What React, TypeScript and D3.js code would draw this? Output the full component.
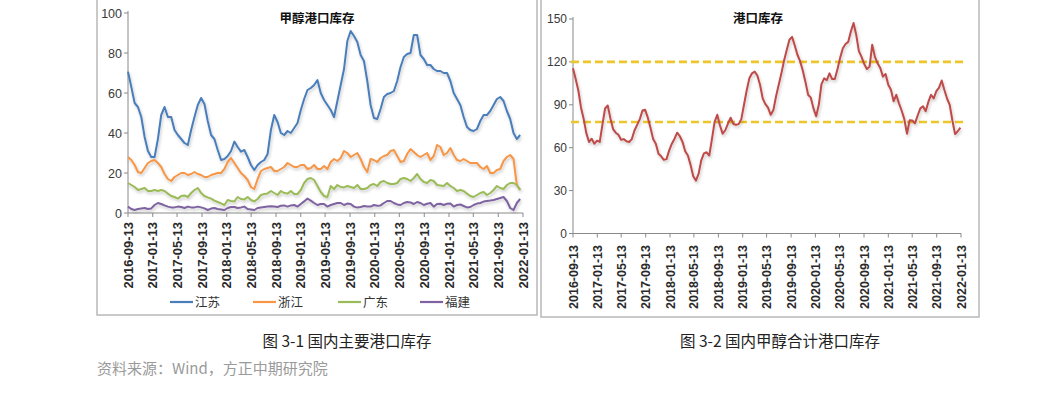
import React from 'react';
import * as d3 from 'd3';

// ---------- data ----------
const tickLabels = [
  '2016-09-13', '2017-01-13', '2017-05-13', '2017-09-13', '2018-01-13', '2018-05-13',
  '2018-09-13', '2019-01-13', '2019-05-13', '2019-09-13', '2020-01-13', '2020-05-13',
  '2020-09-13', '2021-01-13', '2021-05-13', '2021-09-13', '2022-01-13',
];
const leftSeriesStart = '2016-09-13';
const leftSeriesEnd = '2021-12-30';
const rightSeriesStart = '2016-09-13';
const rightSeriesEnd = '2022-01-10';

const seriesNames = ['江苏', '浙江', '广东', '福建'];

const jiangsu = [
  70.7, 63, 55, 53, 48, 38, 31, 28, 28, 37, 49, 53, 48, 48, 41.5, 39, 37, 35, 34, 41.5,
  48, 54, 57.5, 54.5, 46, 39, 37, 31.5, 26.5, 27, 28.5, 31, 35.7, 33, 30.7, 31.5, 28, 24, 21.5, 24,
  25.5, 26.5, 29.5, 41.5, 49, 45.5, 40, 39, 41, 40, 42.5, 45, 51.5, 57, 61.5, 62.5, 64, 66.5, 60, 56.5,
  54,
  51.5, 48, 56, 64, 72, 86, 91, 88.5, 85.5, 79, 76, 66, 54, 47.5, 47, 52, 58, 59.5, 60, 61,
  66, 73, 78, 79.5, 80, 89, 89, 79, 77, 74, 74, 72, 71, 71, 70, 70, 66, 60, 57, 54,
  48, 43, 41.5, 41, 42, 46, 49, 49, 51, 54, 57, 58, 56, 51, 47, 40, 37, 39,
];
const zhejiang = [
  28, 26.5, 24, 20.5, 20, 22.5, 25, 26, 26.5, 25, 23, 19.5, 17, 16, 18, 19, 20, 20, 19, 19.5,
  20.5, 19.5, 19, 18, 18, 19, 19.5, 20, 20, 22, 25.5, 27.5, 25, 22.5, 20, 18.5, 16.5, 13, 12, 17,
  21, 22, 22.5, 23, 21, 21, 22, 23, 25, 24, 23, 23, 24, 24, 22, 22.5, 24, 22, 22, 23.5,
  22,
  25.5, 27, 26, 27.5, 31, 30, 28, 29, 30, 27, 23, 20.5, 27, 26.5, 25.5, 27.5, 28.5, 29, 31, 31.5,
  28.5, 25.5, 26, 29.5, 32, 30.5, 29, 28, 29, 30, 26.5, 28.5, 34, 33, 29, 30, 32.5, 29, 26.5, 26,
  27, 26, 25, 25, 25, 23, 22, 23.5, 20, 20, 21.5, 22, 26, 28, 29, 27, 14, 11.5,
];
const guangdong = [
  15, 14, 13, 11.5, 12, 12.5, 11, 11, 11.5, 11, 11.5, 11, 9.7, 8.5, 8, 7.2, 8.5, 8.8, 8, 10,
  11.5, 12.5, 10, 8.5, 7.8, 7.2, 6.2, 5.5, 4.8, 4, 6.5, 6, 5.8, 8, 7, 6.8, 8, 6.5, 5.8, 7,
  9, 9.5, 9.8, 11, 10, 9, 11, 10, 9.7, 11, 9.5, 9.5, 11.5, 15, 17, 17.5, 16.5, 13.5, 10.5, 8.5,
  8,
  13.5, 12, 14, 13, 12.8, 13.5, 13, 12.5, 14, 12, 12, 12.5, 14, 14.5, 13.5, 15.5, 16, 15, 14.5, 14.5,
  15, 17, 17.5, 17, 16, 17.5, 19.5, 17, 15.5, 15, 16.5, 16, 14, 13.8, 13.5, 15, 13.5, 12.5, 11, 11.5,
  11, 9.7, 8.5, 8, 9, 10, 10.5, 9, 10, 11.5, 13.5, 12.5, 12, 14, 15, 15, 14, 11.5,
];
const fujian = [
  3.2, 2, 1.5, 2, 2.3, 2.5, 2, 2.3, 4, 5, 4.5, 3.8, 3.2, 2.8, 2.8, 3.2, 3, 2.5, 3.2, 2.8,
  2.8, 3.2, 2.8, 2.3, 1.5, 2.2, 2.5, 2, 1.8, 1.5, 2.5, 3, 3, 2.5, 2.8, 3.2, 2, 1.8, 1.5, 2.5,
  2.8, 3, 3.2, 3.4, 3.3, 3, 3.6, 3.8, 3.2, 3.8, 4, 3.2, 4.5, 5.8, 7.2, 6.2, 5, 4, 4.5, 4.5,
  3.2,
  4, 4.5, 5, 5, 4, 4.7, 4.5, 3.2, 2.7, 3, 3.5, 3.3, 3.2, 4, 3.6, 3.8, 5, 6, 6, 5,
  4.3, 4, 5, 5.5, 5.3, 4.5, 5.5, 5, 4, 4.6, 5, 3.2, 4.5, 4.6, 4, 4.6, 4.7, 3.2, 4, 4.3,
  3.5, 2.8, 3, 4, 4.7, 5, 5.7, 6, 6.2, 6.5, 7, 7.5, 8, 6, 2.5, 1.5, 5, 7,
];

const portTotal = [
  115.5, 108, 100, 88, 80, 70, 64, 66.3, 62.8, 65, 64, 76, 87.4, 89.5, 80.5, 73, 70.5, 69, 65.5, 66,
  64.5, 64, 66, 72, 76, 80, 86, 86.5, 81, 74, 66, 62.8, 55.8, 54, 51.5, 52, 58.1, 62.8, 66.3, 70.5,
  68, 64, 57.5, 54.5, 48, 40, 37, 41.7, 51.1, 56, 56.8, 54.5, 66, 78, 83, 75.5, 69.8, 72.2, 76.9, 81,
  76.6, 76, 76.5, 80, 90, 100, 108.5, 112, 113.2, 110.5, 104, 94.5, 90.5, 88,
  83, 86.3, 96, 104, 112, 121, 128.4, 135.5, 137.5, 131.5, 125, 120.5, 114, 106, 97, 95, 87.5, 82, 90, 104.5,
  108.5, 107.3, 112, 108, 108, 115, 123, 129.5, 132.5, 134, 141.3, 147.2, 139, 127.5, 123.5, 118.5, 115, 116.7, 132, 123.5,
  119, 115.8, 109.7, 111.5, 104, 100.5, 92.5, 97, 91, 86, 80, 69.8, 79.2, 79, 77, 82.5, 87.5, 89, 85.5, 92,
  97, 94.5, 99.5, 102, 107, 100.3, 94.4, 90, 79, 69.5, 71.5, 74,
];
const guideLevels = [120, 78];

const leftYTicks = [0, 20, 40, 60, 80, 100];
const rightYTicks = [0, 30, 60, 90, 120, 150];

const colors = ['#4A7EBB', '#F79646', '#9BBB59', '#7E63A0'];
const totalColor = '#BE4B48';

// ---------- helpers ----------
const parse = d3.timeParse('%Y-%m-%d');
function spread(values: number[], start: string, end: string) {
  const t0 = parse(start)!.getTime();
  const t1 = parse(end)!.getTime();
  return values.map((v, i) => ({ d: new Date(t0 + ((t1 - t0) * i) / (values.length - 1)), v }));
}

const numFont = '"Liberation Sans", Arial, sans-serif';
const cjkFont = '"Noto Sans CJK SC", sans-serif';

type AxisProps = {
  x: d3.ScaleTime<number, number>;
  y: d3.ScaleLinear<number, number>;
  yTicks: number[];
  labelTop: number;
  labelSize: number;
  ySize: number;
};

function Axes({ x, y, yTicks, labelTop, labelSize, ySize }: AxisProps) {
  const [x0, x1] = x.range();
  const [y0, y1] = y.range();
  const dates = tickLabels.map((s) => parse(s)!);
  return (
    <g>
      <line x1={x0} x2={x0} y1={y1 - 2} y2={y0} stroke="#8a8a8a" strokeWidth={1} />
      <line x1={x0} x2={x1} y1={y0} y2={y0} stroke="#8a8a8a" strokeWidth={1} />
      {yTicks.map((t) => (
        <g key={t}>
          <line x1={x0 - 4} x2={x0} y1={y(t)} y2={y(t)} stroke="#8a8a8a" />
          <text x={x0 - 6} y={y(t)} dy="0.36em" textAnchor="end" fontFamily={numFont} fontSize={ySize} fill="#3a3a3a">
            {t}
          </text>
        </g>
      ))}
      {dates.map((d, i) => (
        <g key={i}>
          <line x1={x(d)} x2={x(d)} y1={y0} y2={y0 + 4} stroke="#8a8a8a" />
          <text
            transform={`translate(${x(d)},${labelTop}) rotate(-90)`}
            dy="0.36em"
            textAnchor="end"
            fontFamily={numFont}
            fontWeight={700}
            fontSize={labelSize}
            fill="#2a2a2a"
          >
            {tickLabels[i]}
          </text>
        </g>
      ))}
    </g>
  );
}

export default function App() {
  const domain = [parse(tickLabels[0])!, parse(tickLabels[tickLabels.length - 1])!];

  const xL = d3.scaleTime().domain(domain).range([128, 523]);
  const yL = d3.scaleLinear().domain([0, 100]).range([213, 13]);
  const xR = d3.scaleTime().domain(domain).range([573, 961]);
  const yR = d3.scaleLinear().domain([0, 150]).range([233.5, 19]);

  const leftData = [jiangsu, zhejiang, guangdong, fujian].map((s) => spread(s, leftSeriesStart, leftSeriesEnd));
  const rightData = spread(portTotal, rightSeriesStart, rightSeriesEnd);

  const lineL = d3
    .line<{ d: Date; v: number }>()
    .x((p) => xL(p.d))
    .y((p) => yL(p.v));
  const lineR = d3
    .line<{ d: Date; v: number }>()
    .x((p) => xR(p.d))
    .y((p) => yR(p.v));

  const legendX = [170, 253, 338, 420];

  return (
    <svg
      width={1064}
      height={396}
      style={{ position: 'absolute', left: 0, top: 0, background: '#fff' }}
      xmlns="http://www.w3.org/2000/svg"
    >
      <defs>
        <filter id="sh" x="-5%" y="-5%" width="110%" height="120%">
          <feDropShadow dx="1" dy="2" stdDeviation="1.4" floodColor="#000" floodOpacity="0.22" />
        </filter>
        <filter id="glow" x="-5%" y="-50%" width="110%" height="200%">
          <feGaussianBlur stdDeviation="1.6" />
        </filter>
      </defs>
      <rect width={1064} height={396} fill="#fff" />

      {/* panel frames */}
      <rect x={97} y={-5} width={440} height={320} fill="none" stroke="#b8b8b8" strokeWidth={1.5} />
      <rect x={541} y={-5} width={438} height={322} fill="none" stroke="#b8b8b8" strokeWidth={1.5} />

      {/* ---------- left chart ---------- */}
      <text x={317} y={18} dy="0.36em" textAnchor="middle" fontFamily={cjkFont} fontWeight={700} fontSize={12.5} fill="#111">
        甲醇港口库存
      </text>
      <Axes x={xL} y={yL} yTicks={leftYTicks} labelTop={222} labelSize={13} ySize={12.5} />
      <g filter="url(#sh)">
        {leftData.map((s, i) => (
          <path key={i} d={lineL(s) ?? ''} fill="none" stroke={colors[i]} strokeWidth={2} strokeLinejoin="round" />
        ))}
      </g>
      {seriesNames.map((n, i) => (
        <g key={n}>
          <line x1={legendX[i]} x2={legendX[i] + 23} y1={302} y2={302} stroke={colors[i]} strokeWidth={2.2} />
          <text x={legendX[i] + 25} y={302} dy="0.36em" fontFamily={cjkFont} fontSize={12.5} fill="#333">
            {n}
          </text>
        </g>
      ))}

      {/* ---------- right chart ---------- */}
      <text x={758} y={18} dy="0.36em" textAnchor="middle" fontFamily={cjkFont} fontWeight={700} fontSize={12.5} fill="#111">
        港口库存
      </text>
      <Axes x={xR} y={yR} yTicks={rightYTicks} labelTop={245} labelSize={12.5} ySize={12} />
      {guideLevels.map((g) => (
        <g key={g}>
          <line x1={571} x2={967} y1={yR(g)} y2={yR(g)} stroke="#F7E27A" strokeWidth={6} strokeDasharray="8,4" opacity={0.7} filter="url(#glow)" />
          <line x1={571} x2={967} y1={yR(g)} y2={yR(g)} stroke="#EEC52A" strokeWidth={2.6} strokeDasharray="8,4" />
        </g>
      ))}
      <path d={lineR(rightData) ?? ''} fill="none" stroke={totalColor} strokeWidth={2} strokeLinejoin="round" filter="url(#sh)" />

      {/* ---------- captions ---------- */}
      <text x={347} y={341} dy="0.36em" textAnchor="middle" fontFamily={cjkFont} fontSize={15.5} fill="#222">
        图 3-1 国内主要港口库存
      </text>
      <text x={780} y={341} dy="0.36em" textAnchor="middle" fontFamily={cjkFont} fontSize={15.5} fill="#222">
        图 3-2 国内甲醇合计港口库存
      </text>
      <text x={97} y={369} dy="0.36em" fontFamily={cjkFont} fontSize={15} fill="#9a9a9a">
        资料来源：Wind，方正中期研究院
      </text>
    </svg>
  );
}
